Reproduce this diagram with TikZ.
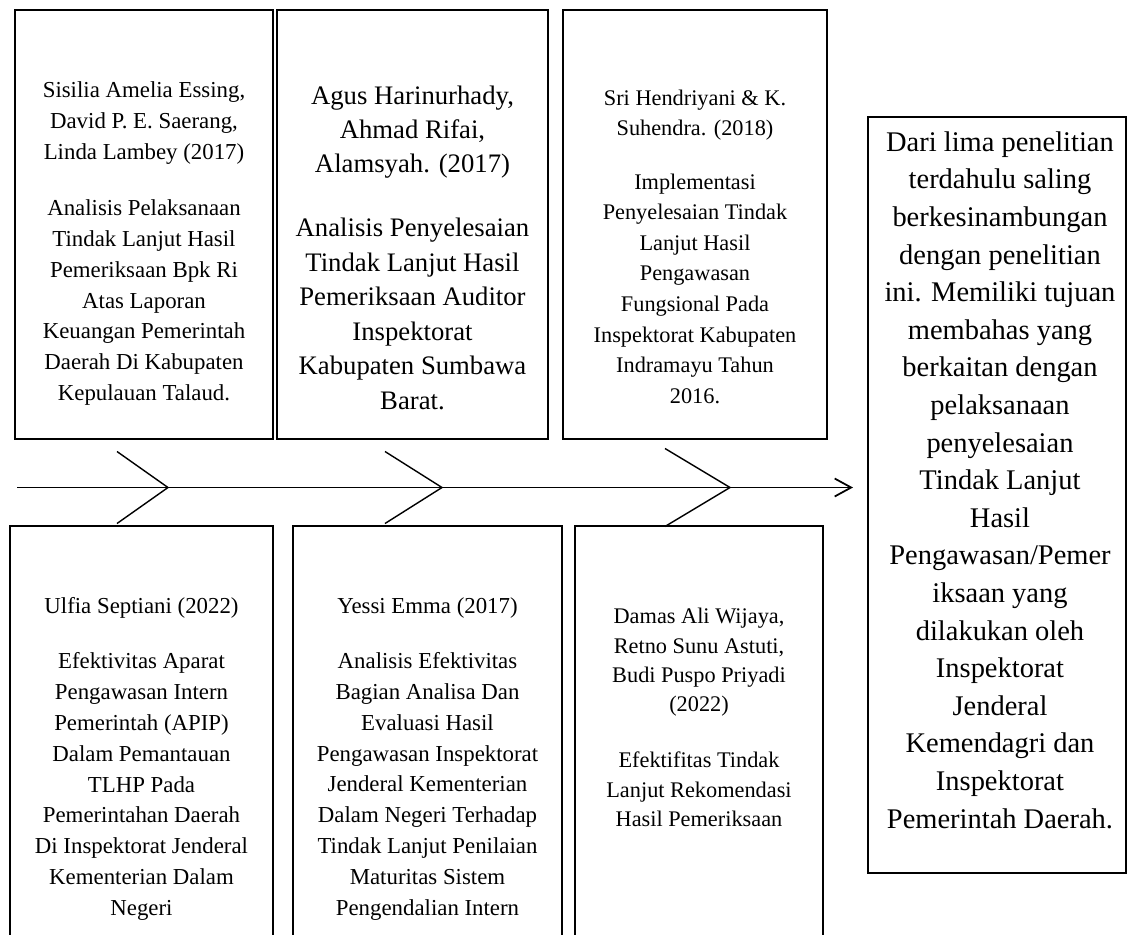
\documentclass[tikz,border=0pt]{standalone}
\usepackage{fontspec}
\setmainfont{Liberation Serif}
\usetikzlibrary{arrows.meta}
\tikzset{box/.style = {draw, thick, inner sep=0pt},
    txt/.style = {align=center, inner sep=0pt},
    fin/.style = {thick}}

\begin{document}
\begin{tikzpicture}[x=0.02cm, y=-0.02cm, >={Straight Barb[length=3.3mm, width=3.6mm]}]
    \useasboundingbox (0,0) rectangle (1130,934);
    % boxes above and below the line
    \foreach \n/\x/\w in {t1/144/5.16, t2/412.5/5.42, t3/695/5.28}
        \node[box, minimum width=\w cm, minimum height=8.58cm] (\n) at (\x,224.5) {};
    \foreach \n/\x/\w in {b1/141.5/5.26, b2/427.5/5.38, b3/699/4.96}
        \node[box, minimum width=\w cm, minimum height=9.48cm] (\n) at (\x,763) {};
    \node[box, minimum width=5.16cm, minimum height=15.12cm] (r) at (997,495) {};

    \node[txt, font=\fontsize{13}{17.5}\selectfont] (t1txt) at (144,243.5)
        {Sisilia Amelia Essing,\\ David P. E. Saerang,\\ Linda Lambey (2017)\\[0.52cm]
         Analisis Pelaksanaan\\ Tindak Lanjut Hasil\\ Pemeriksaan Bpk Ri\\ Atas Laporan\\
         Keuangan Pemerintah\\ Daerah Di Kabupaten\\ Kepulauan Talaud.};
    \node[txt, font=\fontsize{15.2}{19.6}\selectfont] (t2txt) at (412.5,247.5)
        {Agus Harinurhady,\\ Ahmad Rifai,\\ Alamsyah. (2017)\\[0.59cm]
         Analisis Penyelesaian\\ Tindak Lanjut Hasil\\ Pemeriksaan Auditor\\ Inspektorat\\
         Kabupaten Sumbawa\\ Barat.};
    \node[txt, font=\fontsize{12.7}{17.4}\selectfont] (t3txt) at (695,246.5)
        {Sri Hendriyani \& K.\\ Suhendra. (2018)\\[0.46cm]
         Implementasi\\ Penyelesaian Tindak\\ Lanjut Hasil\\ Pengawasan\\
         Fungsional Pada\\ Inspektorat Kabupaten\\ Indramayu Tahun\\ 2016.};
    \node[txt, font=\fontsize{13}{17.6}\selectfont] (b1txt) at (141.5,759)
        {Ulfia Septiani (2022)\\[0.48cm]
         Efektivitas Aparat\\ Pengawasan Intern\\ Pemerintah (APIP)\\ Dalam Pemantauan\\
         TLHP Pada\\ Pemerintahan Daerah\\ Di Inspektorat Jenderal\\ Kementerian Dalam\\ Negeri};
    \node[txt, font=\fontsize{13}{17.6}\selectfont] (b2txt) at (427.5,759)
        {Yessi Emma (2017)\\[0.48cm]
         Analisis Efektivitas\\ Bagian Analisa Dan\\ Evaluasi Hasil\\ Pengawasan Inspektorat\\
         Jenderal Kementerian\\ Dalam Negeri Terhadap\\ Tindak Lanjut Penilaian\\
         Maturitas Sistem\\ Pengendalian Intern};
    \node[txt, font=\fontsize{12.7}{16.7}\selectfont] (b3txt) at (699,717.5)
        {Damas Ali Wijaya,\\ Retno Sunu Astuti,\\ Budi Puspo Priyadi\\ (2022)\\[0.53cm]
         Efektifitas Tindak\\ Lanjut Rekomendasi\\ Hasil Pemeriksaan};
    \node[txt, font=\fontsize{16.2}{21.4}\selectfont] (rtxt) at (1000,480)
        {Dari lima penelitian\\ terdahulu saling\\ berkesinambungan\\ dengan penelitian\\
         ini. Memiliki tujuan\\ membahas yang\\ berkaitan dengan\\ pelaksanaan\\
         penyelesaian\\ Tindak Lanjut\\ Hasil\\ Pengawasan/Pemer\\ iksaan yang\\
         dilakukan oleh\\ Inspektorat\\ Jenderal\\ Kemendagri dan\\ Inspektorat\\
         Pemerintah Daerah.};

    % main line and its fins
    \coordinate (start) at (17,487.5);
    \coordinate (end) at (853,487.5);
    \draw[->, line width=1pt] (start) -- (end);
    \foreach \x/\d/\h in {168/51/36, 442/57/36, 730/65/39}
        \draw[fin] (\x-\d,487.5-\h) -- (\x,487.5) -- (\x-\d,487.5+\h);
\end{tikzpicture}
\end{document}
